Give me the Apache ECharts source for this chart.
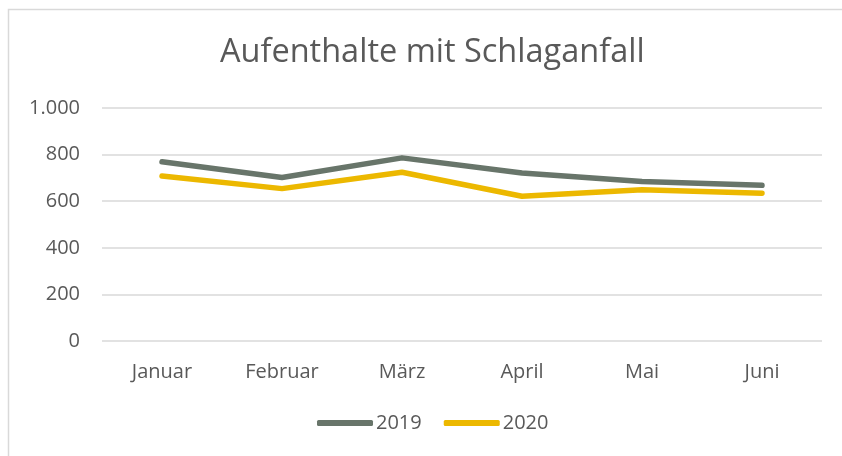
<!DOCTYPE html>
<html>
<head>
<meta charset="utf-8">
<script src="https://cdn.jsdelivr.net/npm/echarts@6/dist/echarts.min.js"></script>
<style>
  html, body { margin: 0; padding: 0; background: #fff; }
  #chart { width: 842px; height: 456px; }
</style>
</head>
<body>
<div id="chart"></div>
<script>
// Daten
var months = ["Januar", "Februar", "März", "April", "Mai", "Juni"];
var values2019 = [769, 702, 786, 721, 685, 668];
var values2020 = [708, 654, 724, 621, 649, 634];
var yTicks = [0, 200, 400, 600, 800, 1000];

var chart = echarts.init(document.getElementById("chart"));

var option = {
  backgroundColor: "#fff",
  animation: false,
  textStyle: { fontFamily: "Open Sans" },
  graphic: [{
    type: "rect",
    shape: { x: 8.5, y: 9.5, width: 900, height: 500 },
    style: { fill: "none", stroke: "#d9d9d9", lineWidth: 1.5 },
    silent: true
  }],
  title: {
    text: "Aufenthalte mit Schlaganfall",
    left: 215,
    top: 31,
    textStyle: { fontSize: 32.5, fontWeight: "normal", color: "#595959", fontFamily: "Open Sans" }
  },
  legend: {
    bottom: 18,
    left: 312,
    icon: "roundRect",
    itemWidth: 56,
    itemHeight: 6,
    itemGap: 22,
    textStyle: { fontSize: 20, color: "#595959", padding: [0, 0, 0, -2] },
    data: ["2019", "2020"]
  },
  grid: { left: 102, right: 20, top: 108, bottom: 115, containLabel: false },
  xAxis: {
    type: "category",
    data: months,
    boundaryGap: true,
    axisLine: { show: false },
    axisTick: { show: false },
    axisLabel: { fontSize: 20, color: "#595959", margin: 21 }
  },
  yAxis: {
    type: "value",
    min: yTicks[0],
    max: yTicks[yTicks.length - 1],
    interval: 200,
    axisLine: { show: false },
    axisTick: { show: false },
    splitLine: { lineStyle: { color: "#d9d9d9", width: 1.5 } },
    axisLabel: {
      fontSize: 20,
      color: "#595959",
      margin: 22,
      formatter: function (v) { return v === 1000 ? "1.000" : String(v); }
    }
  },
  series: [
    {
      name: "2019",
      type: "line",
      data: values2019,
      symbol: "none",
      color: "#68756a",
      lineStyle: { width: 5.5, color: "#68756a", cap: "round", join: "round" }
    },
    {
      name: "2020",
      type: "line",
      data: values2020,
      symbol: "none",
      color: "#ecb800",
      lineStyle: { width: 5.5, color: "#ecb800", cap: "round", join: "round" }
    }
  ]
};

chart.setOption(option);
</script>
</body>
</html>
